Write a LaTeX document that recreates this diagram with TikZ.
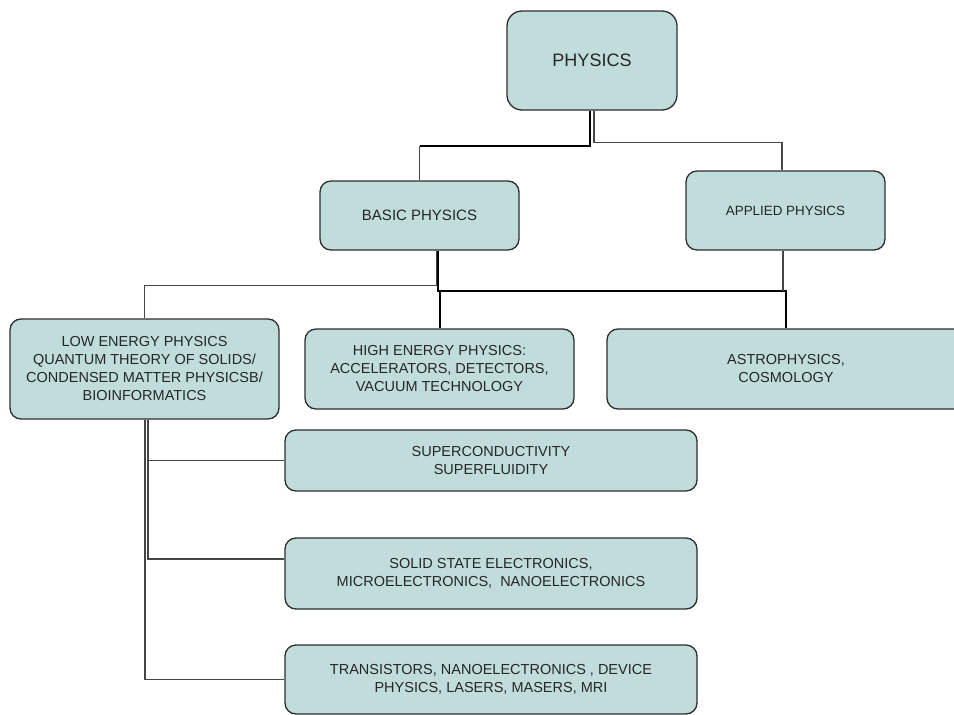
\documentclass[tikz,border=0pt]{standalone}
\usepackage{fontspec}
\setmainfont{Liberation Sans}
\definecolor{boxfill}{RGB}{192,221,220}
\definecolor{boxline}{RGB}{45,45,45}
\definecolor{txt}{RGB}{38,38,38}
\definecolor{thinc}{RGB}{70,70,70}
\begin{document}
\begin{tikzpicture}[x=1pt,y=-1pt,
  box/.style={draw=boxline,fill=boxfill,line width=1.3pt,rounded corners=11pt,
    inner sep=0pt,align=center,text=txt,font=\fontsize{14.5}{18}\selectfont},
  thickl/.style={draw=black,line width=2pt},
  thinl/.style={draw=thinc,line width=1.2pt}]
\clip (0,0) rectangle (954,715);
\useasboundingbox (0,0) rectangle (954,715);
% boxes
\node[box,rounded corners=15pt,minimum width=170pt,minimum height=99pt,font=\fontsize{18}{21}\selectfont] (phys) at (592,60.5) {PHYSICS};
\node[box,minimum width=199pt,minimum height=69pt,font=\fontsize{15}{18}\selectfont] (basic) at (419.5,215.5) {BASIC PHYSICS};
\node[box,minimum width=199pt,minimum height=79pt,font=\fontsize{13.4}{16}\selectfont] (appl) at (785.5,210.5) {APPLIED PHYSICS};
\node[box,minimum width=269pt,minimum height=100pt] (low) at (144.5,369) {LOW ENERGY PHYSICS\\QUANTUM THEORY OF SOLIDS/\\CONDENSED MATTER PHYSICSB/\\BIOINFORMATICS};
\node[box,minimum width=269pt,minimum height=80pt] (high) at (439.5,369) {HIGH ENERGY PHYSICS:\\ACCELERATORS, DETECTORS,\\VACUUM TECHNOLOGY};
\node[box,minimum width=358pt,minimum height=80pt] (astro) at (786,369) {ASTROPHYSICS,\\COSMOLOGY};
\node[box,minimum width=412pt,minimum height=61pt] (sup) at (491,460.5) {SUPERCONDUCTIVITY\\SUPERFLUIDITY};
\node[box,minimum width=412pt,minimum height=71pt] (solid) at (491,573.5) {SOLID STATE ELECTRONICS,\\MICROELECTRONICS,\ \ NANOELECTRONICS};
\node[box,minimum width=412pt,minimum height=69pt] (trans) at (491,679.5) {TRANSISTORS, NANOELECTRONICS , DEVICE\\PHYSICS, LASERS, MASERS, MRI};
% connectors from PHYSICS
\coordinate (pj) at ([xshift=-2pt,yshift=-35pt]phys.south);
\draw[thickl] ([xshift=-2pt]phys.south) -- (pj) -- (pj -| basic.north);
\draw[thinl,line width=1.5pt] (pj -| basic.north) -- (basic.north);
\draw[thinl] ([xshift=2pt]phys.south) -- ++(0,32) -| ([xshift=-3.5pt]appl.north);
% connectors from BASIC / APPLIED
\coordinate (bj) at ([xshift=18.5pt,yshift=-40pt]basic.south);
\draw[thickl] ([xshift=18.5pt]basic.south) -- (bj) -| (astro.north);
\draw[thickl] (bj -| high.north) -- (high.north);
\draw[thinl] ([xshift=17pt]basic.south) -- ++(0,35) -| (low.north);
\draw[thinl] ([xshift=-2.5pt]appl.south) -- ([xshift=-2.5pt]appl.south |- bj);
% connectors from LOW
\draw[thinl] ([xshift=3.5pt]low.south) |- (sup.west);
\draw[thinl] ([xshift=3.5pt]low.south) |- ([yshift=14.5pt]solid.west);
\draw[thinl] ([xshift=0.5pt]low.south) |- (trans.west);
\end{tikzpicture}
\end{document}
